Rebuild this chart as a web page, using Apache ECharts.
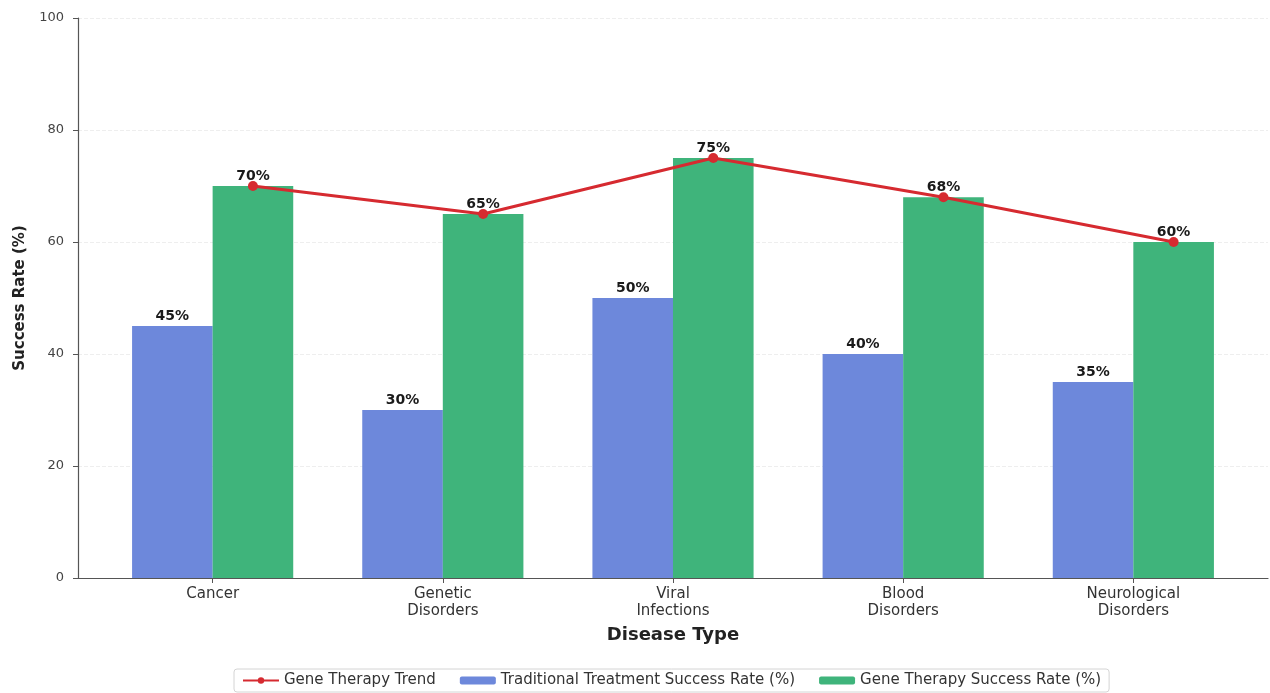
<!DOCTYPE html>
<html>
<head>
<meta charset="utf-8">
<script src="https://cdn.jsdelivr.net/npm/echarts@6/dist/echarts.min.js"></script>
<style>
  html, body { margin: 0; padding: 0; background: #fff; }
  #main { width: 1270px; height: 693px; }
</style>
</head>
<body>
<div id="main"></div>
<script>
var categories = ['Cancer', 'Genetic\nDisorders', 'Viral\nInfections', 'Blood\nDisorders', 'Neurological\nDisorders'];
var traditional = [45, 30, 50, 40, 35];
var geneTherapy = [70, 65, 75, 68, 60];
var yTicks = [0, 20, 40, 60, 80, 100];

// bars sit left/right of each category position (matplotlib style offsets)
var offset = 0.175;
var catPos = categories.map(function (c, i) { return i; });

function pairs(vals, shift) {
    var res = [];
    for (var i = 0; i < vals.length; i++) {
        res.push([i + shift, vals[i]]);
    }
    return res;
}

var chart = echarts.init(document.getElementById('main'));
var font = 'DejaVu Sans';

var pctLabel = {
    show: true,
    position: 'top',
    distance: 3,
    fontFamily: font,
    fontSize: 14,
    fontWeight: 'bold',
    color: '#1a1a1a',
    formatter: function (p) { return p.value[1] + '%'; }
};

var option = {
    animation: false,
    textStyle: { fontFamily: font },
    grid: { left: 78, right: 2, top: 18, bottom: 115, containLabel: false },
    legend: {
        bottom: 1,
        left: 234,
        itemGap: 24,
        itemWidth: 36,
        itemHeight: 8,
        padding: [4, 8],
        borderColor: '#d4d4d4',
        borderWidth: 1,
        borderRadius: 3,
        textStyle: { fontFamily: font, fontSize: 15, color: '#333' },
        data: ['Gene Therapy Trend', 'Traditional Treatment Success Rate (%)', 'Gene Therapy Success Rate (%)']
    },
    xAxis: {
        type: 'value',
        min: -0.585,
        max: 4.585,
        name: 'Disease Type',
        nameLocation: 'middle',
        nameGap: 48,
        nameTextStyle: { fontFamily: font, fontSize: 18, fontWeight: 'bold', color: '#222' },
        axisLine: { show: true, lineStyle: { color: '#555', width: 1.2 } },
        axisTick: { show: true, length: 5, lineStyle: { color: '#555' }, customValues: catPos },
        axisLabel: {
            fontFamily: font, fontSize: 15, color: '#333', lineHeight: 17, margin: 8,
            customValues: catPos,
            formatter: function (v) { return categories[Math.round(v)]; }
        },
        splitLine: { show: false }
    },
    yAxis: {
        type: 'value',
        min: 0,
        max: 100,
        interval: 20,
        name: 'Success Rate (%)',
        nameLocation: 'middle',
        nameGap: 50,
        nameTextStyle: { fontFamily: font, fontSize: 15, fontWeight: 'bold', color: '#222' },
        axisLine: { show: true, onZero: false, lineStyle: { color: '#555', width: 1.2 } },
        axisTick: { show: true, length: 5, lineStyle: { color: '#555' } },
        axisLabel: {
            fontFamily: font, fontSize: 13, color: '#444', margin: 14,
            formatter: function (v) { return yTicks.indexOf(v) >= 0 ? String(v) : ''; }
        },
        splitLine: { show: true, lineStyle: { color: '#eeeeee', width: 1, type: 'dashed' } }
    },
    series: [
        {
            name: 'Traditional Treatment Success Rate (%)',
            type: 'bar',
            barWidth: 80.6,
            barGap: '-100%',
            itemStyle: { color: '#6d88db' },
            label: pctLabel,
            data: pairs(traditional, -offset),
            z: 2
        },
        {
            name: 'Gene Therapy Success Rate (%)',
            type: 'bar',
            barWidth: 80.6,
            barGap: '-100%',
            itemStyle: { color: '#3fb47b' },
            label: pctLabel,
            data: pairs(geneTherapy, offset),
            z: 2
        },
        {
            name: 'Gene Therapy Trend',
            type: 'line',
            symbol: 'circle',
            symbolSize: 10,
            lineStyle: { color: '#d62a30', width: 3 },
            itemStyle: { color: '#d62a30' },
            data: pairs(geneTherapy, offset),
            z: 3
        }
    ]
};
chart.setOption(option);
</script>
</body>
</html>
